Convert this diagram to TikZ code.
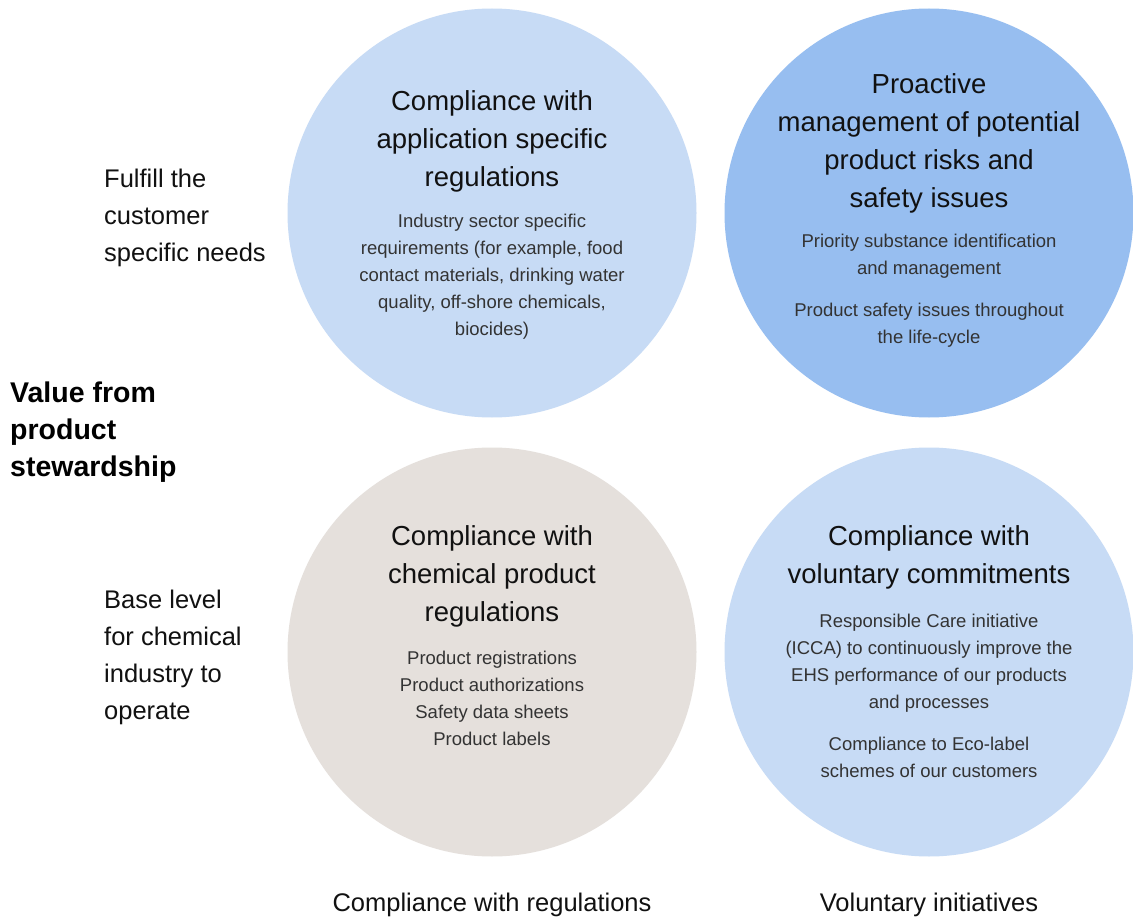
\documentclass[tikz,border=0pt]{standalone}
\usepackage{fontspec}
\setmainfont{Liberation Sans}
\definecolor{lightblue}{HTML}{C7DBF5}
\definecolor{midblue}{HTML}{97BEF0}
\definecolor{beige}{HTML}{E5E0DC}
\definecolor{titlecol}{HTML}{111111}
\definecolor{bodycol}{HTML}{333333}
\begin{document}
\begin{tikzpicture}[x=1pt,y=-1pt,
  bubble/.style={circle, minimum size=409pt, inner sep=0pt, draw=none},
  ctitle/.style={font=\fontsize{27.5}{38}\selectfont, align=center, text=titlecol, inner sep=0pt},
  cbody/.style={font=\fontsize{18.5}{27}\selectfont, align=center, text=bodycol, inner sep=0pt},
  sidelabel/.style={font=\fontsize{25.5}{37}\selectfont, align=left, anchor=west, text=titlecol, inner sep=0pt},
  mainlabel/.style={font=\bfseries\fontsize{28.5}{37}\selectfont, align=left, anchor=west, text=black, inner sep=0pt},
  footlabel/.style={font=\fontsize{25.5}{30}\selectfont, text=titlecol, inner sep=0pt}]
\useasboundingbox (0,0) rectangle (1133,920);
\fill[white] (0,0) rectangle (1133,920);

% circles
\node[bubble, fill=lightblue] (ctl) at (492,213) {};
\node[bubble, fill=midblue] (ctr) at (929,213) {};
\node[bubble, fill=beige] (cbl) at (492,652) {};
\node[bubble, fill=lightblue] (cbr) at (929,652) {};

% top-left
\node[ctitle] (tlt) at (492,141) {Compliance with\\application specific\\regulations};
\node[cbody] (tlb) at (492,277) {Industry sector specific\\requirements (for example, food\\contact materials, drinking water\\quality, off-shore chemicals,\\biocides)};

% top-right
\node[ctitle] (trt) at (929,143) {Proactive\\management of potential\\product risks and\\safety issues};
\node[cbody] (trb) at (929,290.5) {Priority substance identification\\and management\\[15pt]Product safety issues throughout\\the life-cycle};

% bottom-left
\node[ctitle] (blt) at (492,576) {Compliance with\\chemical product\\regulations};
\node[cbody] (blb) at (492,698.5) {Product registrations\\Product authorizations\\Safety data sheets\\Product labels};

% bottom-right
\node[ctitle] (brt) at (929,557.5) {Compliance with\\voluntary commitments};
\node[cbody] (brb) at (929,695.5) {Responsible Care initiative\\(ICCA) to continuously improve the\\EHS performance of our products\\and processes\\[15pt]Compliance to Eco-label\\schemes of our customers};

% left labels
\node[sidelabel] (fulfill) at (104,218) {Fulfill the\\customer\\specific needs};
\node[mainlabel] (value) at (10,432) {Value from\\product\\stewardship};
\node[sidelabel] (base) at (104,657.5) {Base level\\for chemical\\industry to\\operate};

% bottom labels
\node[footlabel] (regs) at (492,905) {Compliance with regulations};
\node[footlabel] (vol) at (929,905) {Voluntary initiatives};
\end{tikzpicture}
\end{document}
